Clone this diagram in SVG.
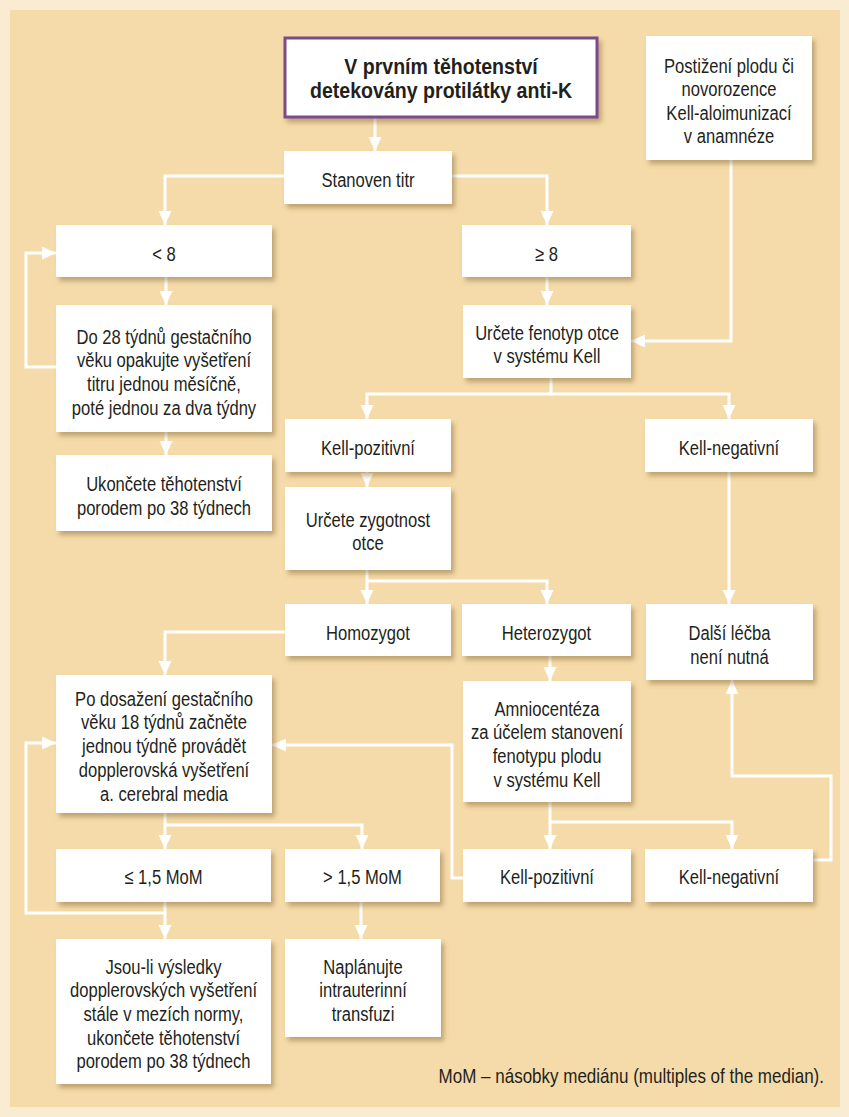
<svg xmlns="http://www.w3.org/2000/svg" width="849" height="1117" viewBox="0 0 849 1117">
<style>
.box{fill:#ffffff;filter:url(#sh)}
.title{fill:#ffffff;stroke:#7B4A8C;stroke-width:3;filter:url(#sh)}
.t{font-family:"Liberation Sans",Arial,sans-serif;font-size:21px;fill:#231F20;text-anchor:middle}
.tb{font-family:"Liberation Sans",Arial,sans-serif;font-size:22px;font-weight:bold;fill:#231F20;text-anchor:middle}
.c{fill:none;stroke:#ffffff;stroke-width:3}
.a{marker-end:url(#ah)}
</style>
<defs>
<filter id="sh" x="-10%" y="-10%" width="130%" height="140%">
<feDropShadow dx="3" dy="4" stdDeviation="2.5" flood-color="#7a5a2a" flood-opacity="0.45"/>
</filter>
<marker id="ah" markerUnits="userSpaceOnUse" markerWidth="16" markerHeight="14" refX="14" refY="6.5" orient="auto">
<path d="M0,0 L14,6.5 L0,13 Z" fill="#ffffff"/>
</marker>
</defs>
<rect x="0" y="0" width="849" height="1117" fill="#F9ECD3"/>
<rect x="10" y="10" width="830" height="1097" fill="#F5DBA9"/>

<g id="connectors">
<path class="c a" d="M375,117 V151"/>
<path class="c a" d="M284,176 H165 V225"/>
<path class="c a" d="M452,176 H547 V225"/>
<path class="c a" d="M166,277 V305"/>
<path class="c a" d="M56,367 H26 V253 H56"/>
<path class="c a" d="M166,432 V455"/>
<path class="c a" d="M547,277 V305"/>
<path class="c a" d="M731,160 V341 H631"/>
<path class="c a" d="M551,378 V394 H367 V419"/>
<path class="c a" d="M551,394 H729 V419"/>
<path class="c a" d="M367,472 V487"/>
<path class="c a" d="M367,570 V604"/>
<path class="c a" d="M367,581 H547 V604"/>
<path class="c a" d="M285,632 H165 V675"/>
<path class="c a" d="M165,813 V849"/>
<path class="c a" d="M165,825 H362 V849"/>
<path class="c a" d="M165,902 V939"/>
<path class="c a" d="M165,913 H26 V743 H56"/>
<path class="c a" d="M361,902 V939"/>
<path class="c a" d="M550,656 V681"/>
<path class="c a" d="M550,802 V849"/>
<path class="c a" d="M550,822 H732 V849"/>
<path class="c a" d="M463,878 H452 V745 H272"/>
<path class="c a" d="M813,860 H831 V776 H732 V680"/>
<path class="c a" d="M729,472 V604"/>
</g>

<g id="n-title">
<rect class="title" x="285" y="38" width="312" height="79"/>
<text class="tb" transform="translate(441,74) scale(0.89,1)"><tspan x="0" y="0">V prvním těhotenství</tspan><tspan x="0" y="24.5">detekovány protilátky anti-K</tspan></text>
</g>
<g id="n-postizeni">
<rect class="box" x="646" y="36" width="166" height="124"/>
<text class="t" transform="translate(729,73) scale(0.79,1)"><tspan x="0" y="0">Postižení plodu či</tspan><tspan x="0" y="23.5">novorozence</tspan><tspan x="0" y="47">Kell-aloimunizací</tspan><tspan x="0" y="70.5">v anamnéze</tspan></text>
</g>
<g id="n-stanoven">
<rect class="box" x="284" y="151" width="168" height="53"/>
<text class="t" transform="translate(368,187) scale(0.79,1)">Stanoven titr</text>
</g>
<g id="n-lt8">
<rect class="box" x="56" y="225" width="216" height="52"/>
<text class="t" transform="translate(164,261) scale(0.79,1)">&lt; 8</text>
</g>
<g id="n-ge8">
<rect class="box" x="462" y="225" width="169" height="52"/>
<text class="t" transform="translate(546.5,261) scale(0.79,1)">≥ 8</text>
</g>
<g id="n-do28">
<rect class="box" x="56" y="305" width="216" height="127"/>
<text class="t" transform="translate(164,343.5) scale(0.79,1)"><tspan x="0" y="0">Do 28 týdnů gestačního</tspan><tspan x="0" y="23.7">věku opakujte vyšetření</tspan><tspan x="0" y="47.4">titru jednou měsíčně,</tspan><tspan x="0" y="71.1">poté jednou za dva týdny</tspan></text>
</g>
<g id="n-ukoncete1">
<rect class="box" x="56" y="455" width="216" height="76"/>
<text class="t" transform="translate(164,491) scale(0.79,1)"><tspan x="0" y="0">Ukončete těhotenství</tspan><tspan x="0" y="23.7">porodem po 38 týdnech</tspan></text>
</g>
<g id="n-fenotyp">
<rect class="box" x="463" y="305" width="168" height="73"/>
<text class="t" transform="translate(547,339.5) scale(0.79,1)"><tspan x="0" y="0">Určete fenotyp otce</tspan><tspan x="0" y="23.7">v systému Kell</tspan></text>
</g>
<g id="n-kellpoz1">
<rect class="box" x="285" y="419" width="166" height="53"/>
<text class="t" transform="translate(368,454.5) scale(0.79,1)">Kell-pozitivní</text>
</g>
<g id="n-kellneg1">
<rect class="box" x="645" y="419" width="168" height="53"/>
<text class="t" transform="translate(729,454.5) scale(0.79,1)">Kell-negativní</text>
</g>
<g id="n-zygot">
<rect class="box" x="285" y="487" width="166" height="83"/>
<text class="t" transform="translate(368,526.5) scale(0.79,1)"><tspan x="0" y="0">Určete zygotnost</tspan><tspan x="0" y="23.7">otce</tspan></text>
</g>
<g id="n-homo">
<rect class="box" x="285" y="604" width="166" height="52"/>
<text class="t" transform="translate(368,639.5) scale(0.79,1)">Homozygot</text>
</g>
<g id="n-hetero">
<rect class="box" x="462" y="604" width="169" height="52"/>
<text class="t" transform="translate(546.5,639.5) scale(0.79,1)">Heterozygot</text>
</g>
<g id="n-dalsi">
<rect class="box" x="646" y="604" width="167" height="76"/>
<text class="t" transform="translate(729.5,640) scale(0.79,1)"><tspan x="0" y="0">Další léčba</tspan><tspan x="0" y="23.7">není nutná</tspan></text>
</g>
<g id="n-podosazeni">
<rect class="box" x="56" y="675" width="216" height="138"/>
<text class="t" transform="translate(164,705.5) scale(0.79,1)"><tspan x="0" y="0">Po dosažení gestačního</tspan><tspan x="0" y="23.8">věku 18 týdnů začněte</tspan><tspan x="0" y="47.6">jednou týdně provádět</tspan><tspan x="0" y="71.4">dopplerovská vyšetření</tspan><tspan x="0" y="95.2">a. cerebral media</tspan></text>
</g>
<g id="n-amnio">
<rect class="box" x="463" y="681" width="168" height="121"/>
<text class="t" transform="translate(547,715.5) scale(0.79,1)"><tspan x="0" y="0">Amniocentéza</tspan><tspan x="0" y="23.8">za účelem stanovení</tspan><tspan x="0" y="47.6">fenotypu plodu</tspan><tspan x="0" y="71.4">v systému Kell</tspan></text>
</g>
<g id="n-le15">
<rect class="box" x="56" y="849" width="215" height="53"/>
<text class="t" transform="translate(163.5,884) scale(0.79,1)">≤ 1,5 MoM</text>
</g>
<g id="n-gt15">
<rect class="box" x="285" y="849" width="155" height="53"/>
<text class="t" transform="translate(362.5,884) scale(0.79,1)">&gt; 1,5 MoM</text>
</g>
<g id="n-kellpoz2">
<rect class="box" x="463" y="849" width="168" height="53"/>
<text class="t" transform="translate(547,884) scale(0.79,1)">Kell-pozitivní</text>
</g>
<g id="n-kellneg2">
<rect class="box" x="645" y="849" width="168" height="53"/>
<text class="t" transform="translate(729,884) scale(0.79,1)">Kell-negativní</text>
</g>
<g id="n-jsouli">
<rect class="box" x="56" y="939" width="215" height="145"/>
<text class="t" transform="translate(163.5,973.5) scale(0.79,1)"><tspan x="0" y="0">Jsou-li výsledky</tspan><tspan x="0" y="23.7">dopplerovských vyšetření</tspan><tspan x="0" y="47.4">stále v mezích normy,</tspan><tspan x="0" y="71.1">ukončete těhotenství</tspan><tspan x="0" y="94.8">porodem po 38 týdnech</tspan></text>
</g>
<g id="n-naplanujte">
<rect class="box" x="285" y="939" width="156" height="98"/>
<text class="t" transform="translate(363,973.5) scale(0.79,1)"><tspan x="0" y="0">Naplánujte</tspan><tspan x="0" y="23.7">intrauterinní</tspan><tspan x="0" y="47.4">transfuzi</tspan></text>
</g>
<text class="t" style="text-anchor:end" transform="translate(824,1083) scale(0.81,1)">MoM – násobky mediánu (multiples of the median).</text>
</svg>
